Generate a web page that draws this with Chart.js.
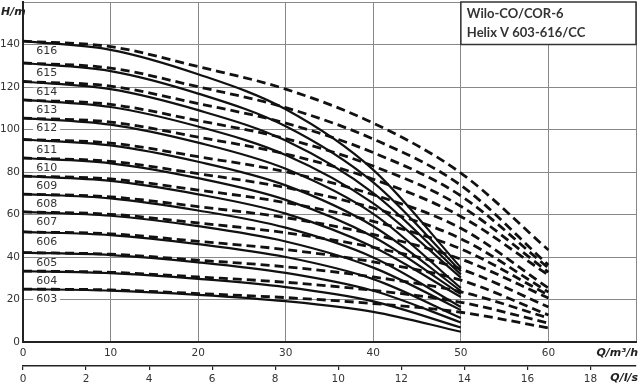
<!DOCTYPE html>
<html>
<head>
<meta charset="utf-8">
<script src="https://cdn.jsdelivr.net/npm/chart.js@4.4.1/dist/chart.umd.min.js"></script>
<style>
  html, body { margin: 0; padding: 0; background: #fff; }
</style>
</head>
<body>
<canvas id="pumpChart" width="640" height="385"></canvas>
<script>
// flow points (m3/h) where the curves were read
const qSolid = [0, 10, 20, 30, 40, 50];
const qDashed = [0, 10, 20, 30, 40, 50, 60];

const pumpNames = ['603', '604', '605', '606', '607', '608', '609', '610', '611', '612', '613', '614', '615', '616'];

// head H/m, solid curves (up to 50 m3/h)
const solidCurves = [
    [24.9, 24.2, 22.2, 19.2, 14.2, 4.8],     // 603
    [33.4, 32.4, 29.7, 25.8, 19.1, 6.8],     // 604
    [42.1, 40.9, 37.5, 32.5, 24.1, 9.2],     // 605
    [51.8, 50.3, 46.1, 40.0, 29.6, 11.3],    // 606
    [61.2, 59.4, 54.5, 47.3, 35.0, 15.0],    // 607
    [69.6, 67.6, 61.9, 53.8, 39.8, 16.5],    // 608
    [78.1, 75.8, 69.5, 60.4, 44.7, 21.2],    // 609
    [86.6, 84.1, 77.1, 66.9, 49.5, 22.5],    // 610
    [95.3, 92.5, 84.8, 73.7, 54.5, 24.0],    // 611
    [105.4, 102.3, 93.8, 81.5, 60.3, 25.4],  // 612
    [113.9, 110.6, 101.4, 88.0, 65.2, 30.3], // 613
    [122.6, 119.0, 109.1, 94.8, 70.1, 31.8], // 614
    [131.3, 127.5, 116.9, 101.5, 75.1, 33.3],// 615
    [141.6, 137.5, 126.0, 109.5, 81.0, 35.0] // 616
];

// head H/m, dashed curves (up to 60 m3/h)
const dashedCurves = [
    [24.9, 24.5, 22.8, 20.9, 18.1, 14.0, 6.6],      // 603
    [33.4, 32.8, 30.6, 28.1, 24.3, 18.7, 8.9],      // 604
    [42.1, 41.3, 38.5, 35.4, 30.6, 23.6, 11.3],     // 605
    [51.8, 50.9, 47.4, 43.5, 37.7, 29.1, 12.7],     // 606
    [61.2, 60.1, 56.0, 51.4, 44.5, 34.3, 16.5],     // 607
    [69.6, 68.3, 63.7, 58.5, 50.6, 39.0, 20.7],     // 608
    [78.1, 76.7, 71.5, 65.6, 56.8, 43.8, 22.1],     // 609
    [86.6, 85.0, 79.2, 72.7, 63.0, 48.6, 23.5],     // 610
    [95.3, 93.6, 87.2, 80.1, 69.3, 53.5, 25.4],     // 611
    [105.4, 103.5, 96.4, 88.5, 76.6, 59.1, 31.5],   // 612
    [113.9, 111.8, 104.2, 95.7, 82.8, 63.9, 32.9],  // 613
    [122.6, 120.4, 112.2, 103.0, 89.1, 68.8, 34.8], // 614
    [131.3, 128.9, 120.1, 110.3, 95.5, 73.7, 36.2], // 615
    [141.6, 139.0, 129.6, 119.0, 103.0, 79.5, 43.3] // 616
];

const qMax = 70;         // m3/h
const hMax = 160;        // m
const lsFactor = 3.6;    // m3/h -> l/s

Chart.defaults.font.family = 'DejaVu Sans';
Chart.defaults.font.size = 10.5;
Chart.defaults.color = '#333';

const datasets = [];
dashedCurves.forEach((heads, i) => {
    datasets.push({
        label: pumpNames[i] + ' dashed',
        data: heads.map((h, k) => ({ x: qDashed[k], y: h })),
        borderColor: '#111',
        borderWidth: 2.8,
        borderDash: [9, 5],
        cubicInterpolationMode: 'monotone',
        order: 2
    });
});
solidCurves.forEach((heads, i) => {
    datasets.push({
        label: pumpNames[i],
        data: heads.map((h, k) => ({ x: qSolid[k], y: h })),
        borderColor: '#111',
        borderWidth: 2.2,
        cubicInterpolationMode: 'monotone',
        order: 1
    });
});

// pump names under each curve, on a white patch
const curveLabels = {
    id: 'curveLabels',
    beforeDatasetsDraw(chart) {
        const ctx = chart.ctx;
        const xs = chart.scales.x, ys = chart.scales.y;
        ctx.save();
        ctx.font = '11px "DejaVu Sans"';
        ctx.textBaseline = 'middle';
        ctx.textAlign = 'left';
        pumpNames.forEach((name, i) => {
            const px = xs.getPixelForValue(1.5);
            const py = ys.getPixelForValue(dashedCurves[i][0] - 4.8);
            const w = ctx.measureText(name).width;
            ctx.fillStyle = '#fff';
            ctx.fillRect(px - 3, py - 4, w + 6, 8);
            ctx.fillStyle = '#333';
            ctx.fillText(name, px, py);
        });
        ctx.restore();
    }
};

// title box in the top right corner
const titleBox = {
    id: 'titleBox',
    afterDatasetsDraw(chart) {
        const ctx = chart.ctx;
        const area = chart.chartArea;
        const left = chart.scales.x.getPixelForValue(50);
        const bottom = chart.scales.y.getPixelForValue(140);
        ctx.save();
        ctx.fillStyle = '#fff';
        ctx.fillRect(left, area.top, area.right - left, bottom - area.top);
        ctx.strokeStyle = '#333';
        ctx.lineWidth = 1.5;
        ctx.strokeRect(left, area.top, area.right - left, bottom - area.top);
        ctx.fillStyle = '#333';
        ctx.font = 'bold 13px Lato';
        ctx.textBaseline = 'middle';
        ctx.fillText('Wilo-CO/COR-6', left + 6, area.top + 12);
        ctx.fillText('Helix V 603-616/CC', left + 6, area.top + 31);
        ctx.restore();
    }
};

// axis names
const axisNames = {
    id: 'axisNames',
    afterDraw(chart) {
        const ctx = chart.ctx;
        const area = chart.chartArea;
        ctx.save();
        ctx.fillStyle = '#222';
        ctx.font = 'italic bold 11px "DejaVu Sans"';
        ctx.textBaseline = 'middle';
        ctx.textAlign = 'left';
        ctx.fillText('H/m', 1, area.top + 10);
        ctx.textAlign = 'right';
        ctx.fillText('Q/m³/h', area.right + 2, 353);
        ctx.fillText('Q/l/s', area.right + 2, 378);
        ctx.restore();
    }
};

const ctx = document.getElementById('pumpChart').getContext('2d');
new Chart(ctx, {
    type: 'line',
    data: { datasets: datasets },
    options: {
        responsive: false,
        animation: false,
        layout: { padding: { top: 2, right: 4, left: 0, bottom: 0 } },
        plugins: { legend: { display: false }, tooltip: { enabled: false } },
        elements: { point: { radius: 0 } },
        scales: {
            x: {
                type: 'linear',
                position: 'bottom',
                weight: 1,
                min: 0,
                max: qMax,
                ticks: {
                    stepSize: 10,
                    padding: 5,
                    maxRotation: 0,
                    callback: v => v === qMax ? '' : v
                },
                grid: { color: '#888', lineWidth: 1, drawTicks: false },
                border: { color: '#222', width: 2 },
                afterFit: s => { s.height = 24; s.paddingLeft = 0; s.paddingRight = 0; }
            },
            x2: {
                type: 'linear',
                position: 'bottom',
                weight: 2,
                min: 0,
                max: qMax / lsFactor,
                ticks: {
                    stepSize: 2,
                    includeBounds: false,
                    padding: 3,
                    maxRotation: 0,
                    callback: v => Number.isInteger(v) ? v : ''
                },
                grid: { drawOnChartArea: false, drawTicks: true, tickLength: 4, color: '#222', lineWidth: 1.2 },
                border: { color: '#222', width: 1.5 },
                afterFit: s => { s.height = 19; s.paddingLeft = 0; s.paddingRight = 0; }
            },
            y: {
                type: 'linear',
                min: 0,
                max: hMax,
                ticks: {
                    stepSize: 20,
                    padding: 3,
                    callback: v => v === hMax ? '' : v
                },
                grid: { color: '#888', lineWidth: 1, drawTicks: false },
                border: { color: '#222', width: 2 },
                afterFit: s => { s.width = 23; s.paddingTop = 0; s.paddingBottom = 0; }
            }
        }
    },
    plugins: [curveLabels, titleBox, axisNames]
});
</script>
</body>
</html>
